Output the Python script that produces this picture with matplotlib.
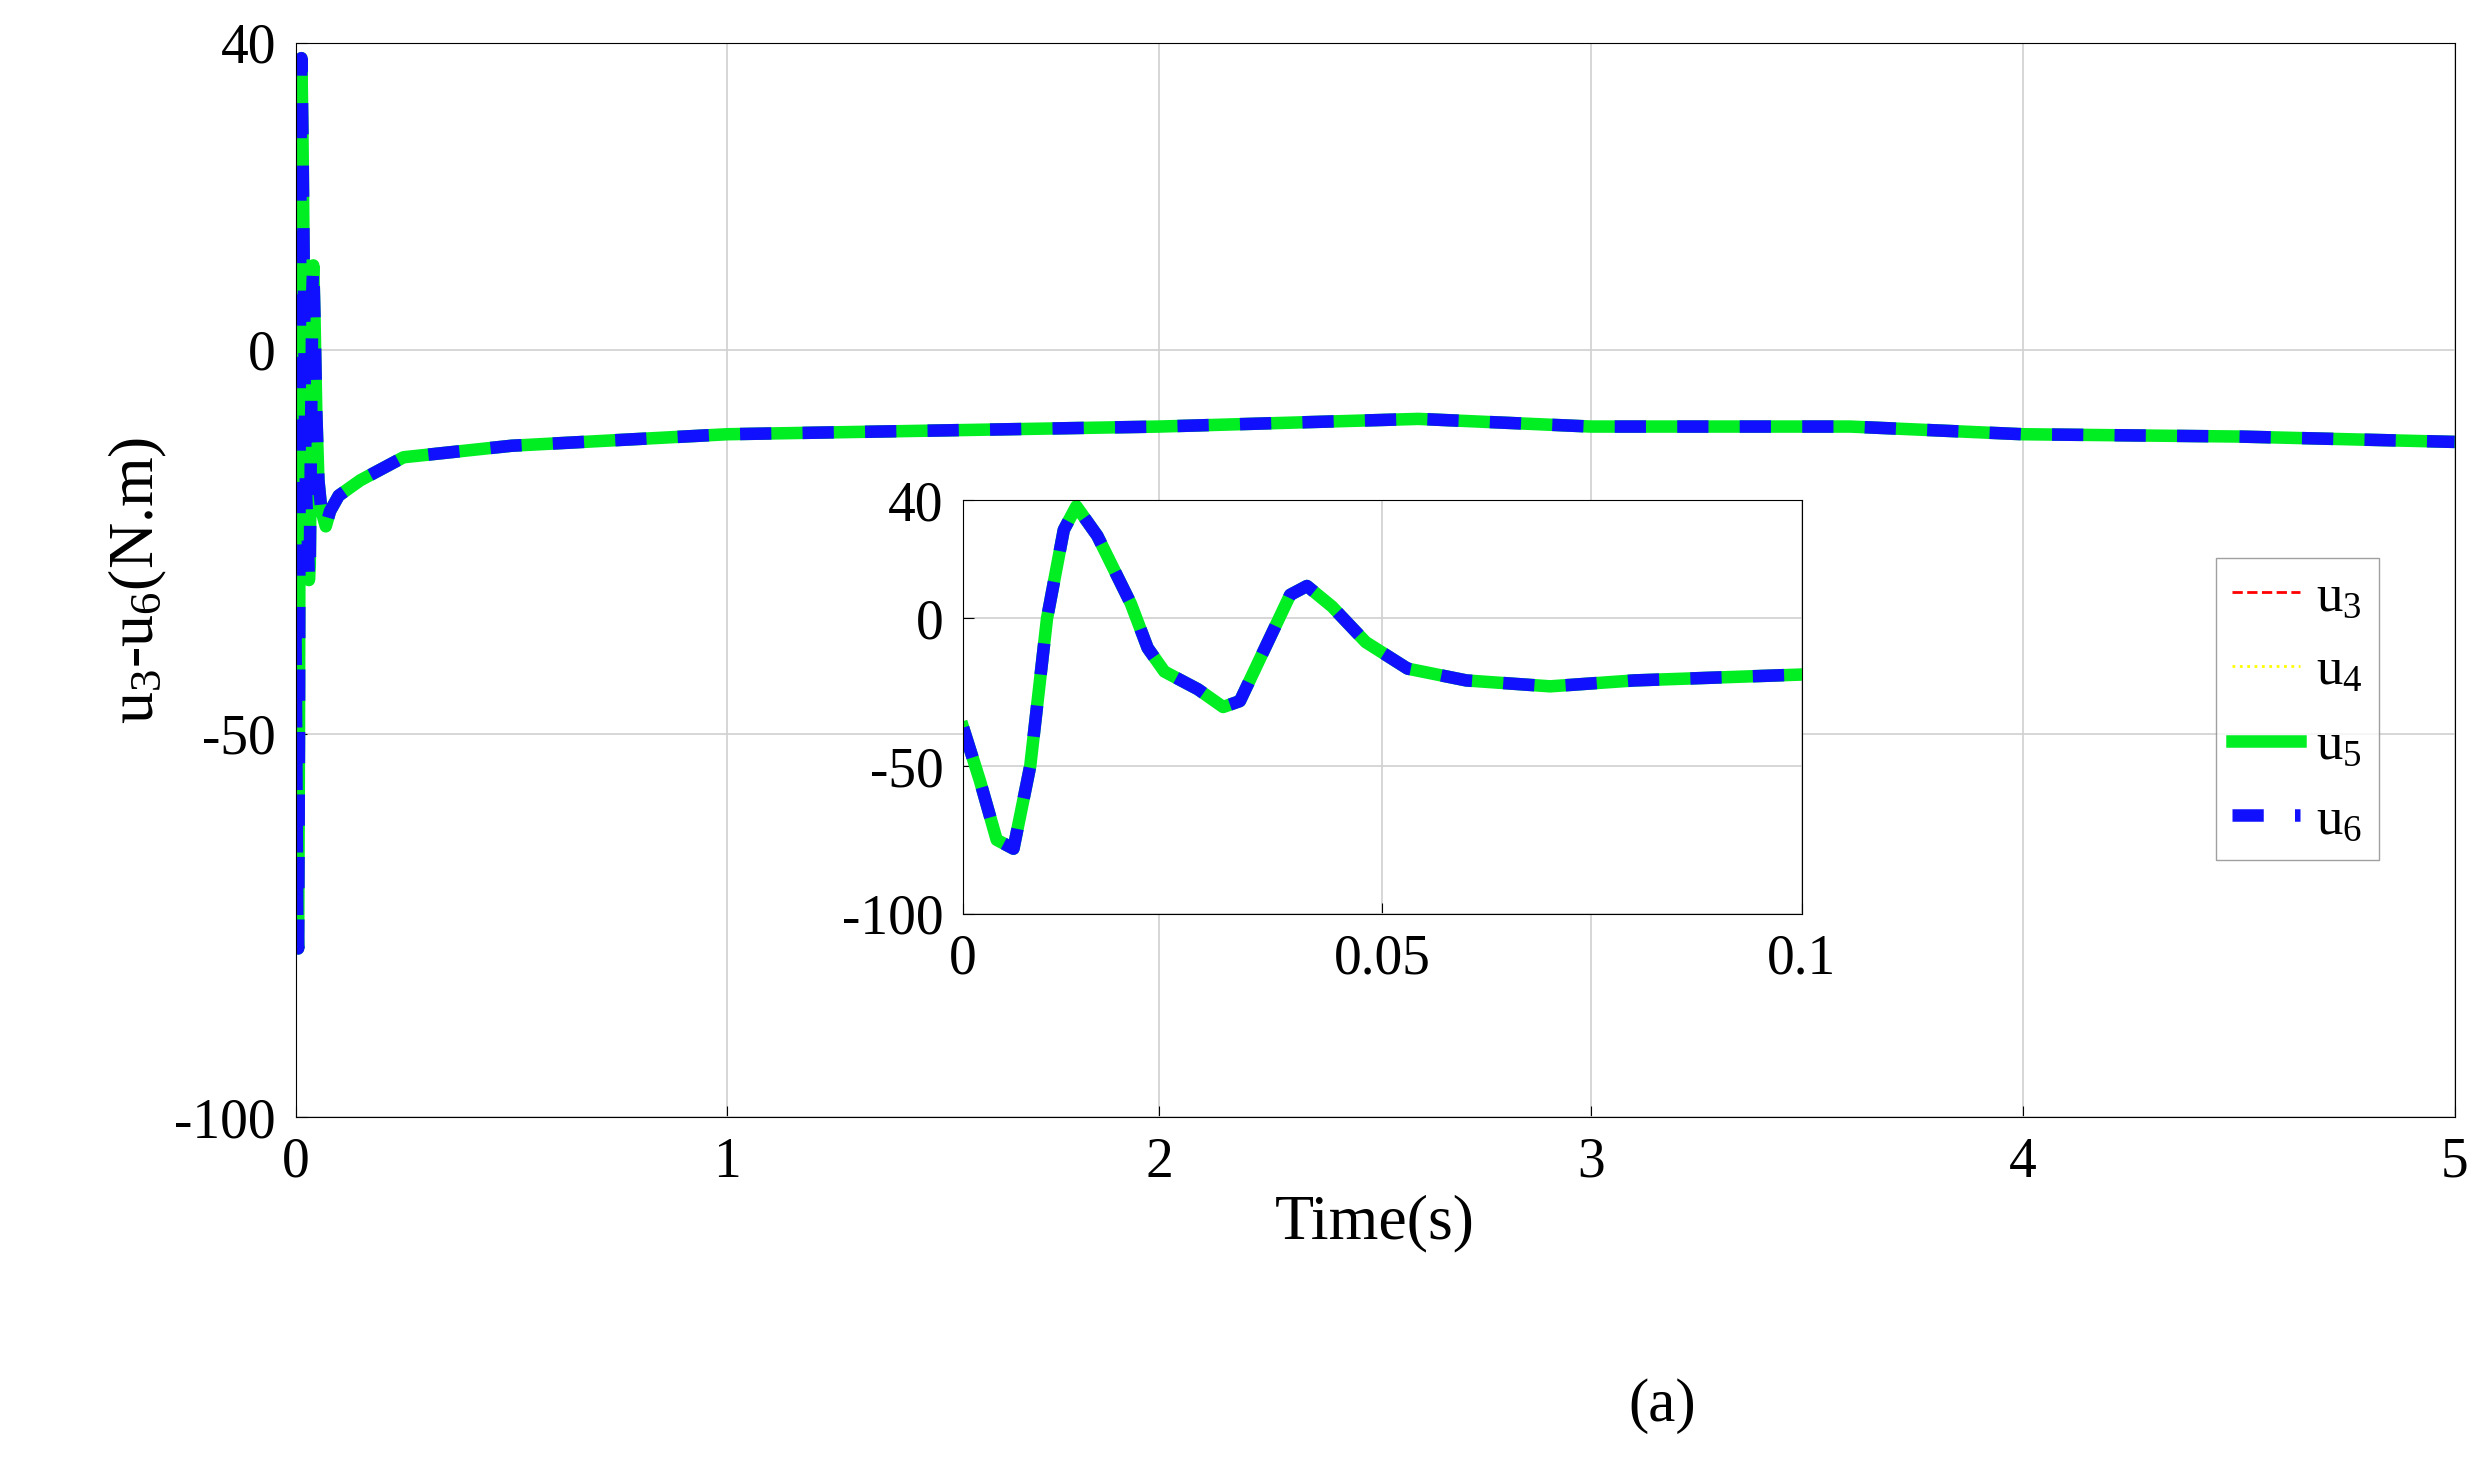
import numpy as np
import matplotlib.pyplot as plt

plt.rcParams['font.family'] = ['Liberation Serif', 'DejaVu Serif']
plt.rcParams['mathtext.fontset'] = 'custom'
plt.rcParams['mathtext.rm'] = 'Liberation Serif'
plt.rcParams['mathtext.it'] = 'Liberation Serif'
plt.rcParams['axes.unicode_minus'] = False

# time and control torque (all four signals coincide)
t = [0, 0.002, 0.004, 0.006, 0.008, 0.01, 0.012, 0.0135, 0.016, 0.02, 0.022, 0.024,
     0.028, 0.031, 0.033, 0.036, 0.039, 0.041, 0.044, 0.048, 0.053, 0.06, 0.07, 0.08,
     0.09, 0.1, 0.15, 0.25, 0.5, 1.0, 1.5, 2.0, 2.6, 3.0, 3.6, 4.0, 4.5, 5.0]
u = [-37, -55, -75, -78, -50, 0, 30, 38, 28, 5, -10, -18,
     -24, -30, -28, -10, 8, 11, 4, -8, -17, -21, -23, -21,
     -20, -19, -17, -14, -12.5, -11, -10.5, -10, -9, -10, -10, -11, -11.3, -12]
t = np.array(t)
u = np.array(u)

fig = plt.figure(figsize=(24.92, 14.76), dpi=100)
ax = fig.add_axes([0.1186, 0.243, 0.8664, 0.728])


def draw(a, with_label):
    a.plot(t, u, color='red', ls='--', lw=2, label='u$_3$' if with_label else None)
    a.plot(t, u, color='yellow', ls=':', lw=2, label='u$_4$' if with_label else None)
    a.plot(t, u, color='#00ee22', ls='-', lw=9, label='u$_5$' if with_label else None)
    a.plot(t, u, color='#1010ff', ls=(0, (2.5, 2.5)), lw=9, label='u$_6$' if with_label else None)


draw(ax, True)
ax.set_xlim(0, 5)
ax.set_ylim(-100, 40)
ax.set_yticks([-100, -50, 0, 40])
ax.set_xticks([0, 1, 2, 3, 4, 5])
ax.grid(True, color='#d0d0d0', lw=1.2)
ax.tick_params(labelsize=40, direction='in', length=8, pad=14)
ax.set_xlabel('Time(s)', fontsize=46)
ax.set_ylabel('u$_3$-u$_6$(N.m)', fontsize=46)
leg = ax.legend(loc='center right', bbox_to_anchor=(0.977, 0.38), fontsize=38,
                handlelength=1.3, handletextpad=0.3, labelspacing=0.5,
                borderpad=0.3, fancybox=False, edgecolor='#888888')

ins = fig.add_axes([0.3865, 0.381, 0.3365, 0.28])
draw(ins, False)
ins.set_xlim(0, 0.1)
ins.set_ylim(-100, 40)
ins.set_xticks([0, 0.05, 0.1])
ins.set_xticklabels(['0', '0.05', '0.1'])
ins.set_yticks([-100, -50, 0, 40])
ins.grid(True, color='#d0d0d0', lw=1.2)
ins.tick_params(labelsize=40, direction='in', length=8, pad=14)

fig.text(0.667, 0.037, '(a)', fontsize=44, ha='center')
fig.savefig('out.png')
